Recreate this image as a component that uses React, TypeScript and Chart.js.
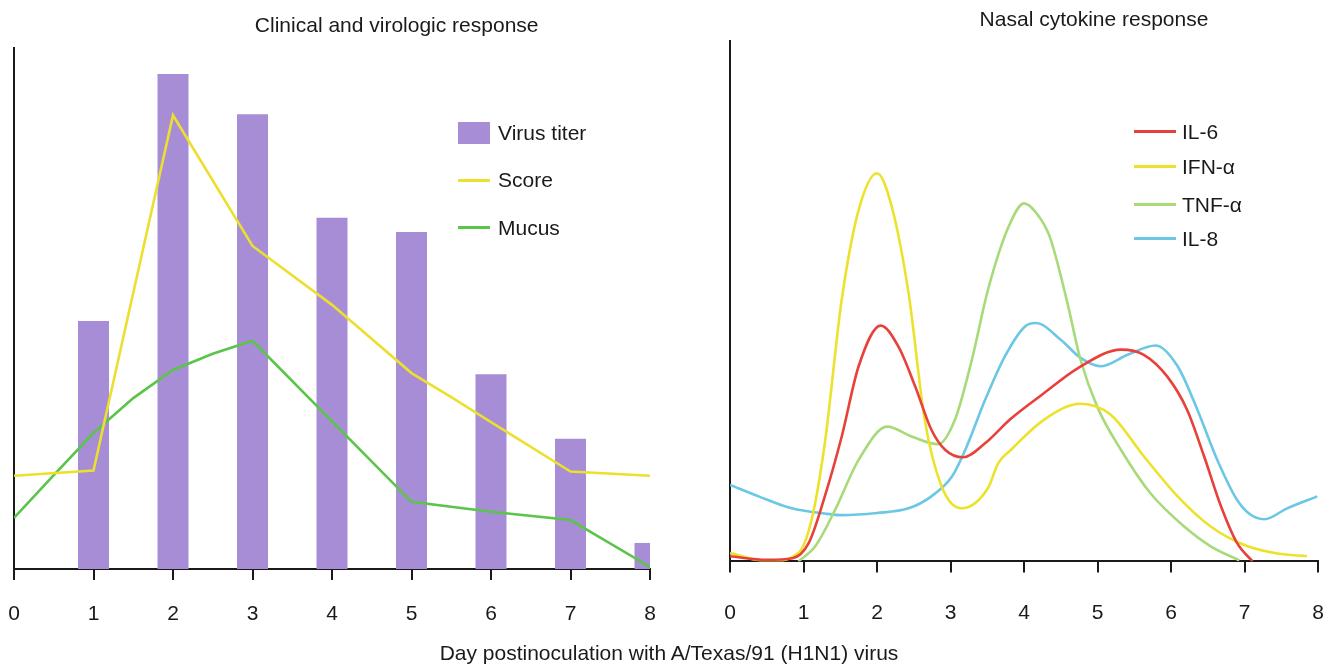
import React, { useEffect, useRef } from "react";
import { Chart, registerables } from "chart.js";

Chart.register(...registerables);

const FONT = "'Liberation Sans', Arial, Helvetica, sans-serif";
const TEXT = "#1a1a1a";
const AXIS = "#1a1a1a";

// ---- shared axis ----
const dayMin = 0;
const dayMax = 8;
const xAxisTitle = "Day postinoculation with A/Texas/91 (H1N1) virus";

// ---- left panel: clinical and virologic response ----
const leftTitle = "Clinical and virologic response";
const virusLabel = "Virus titer";
const virusDays = [1, 2, 3, 4, 5, 6, 7, 8];
const virusTiter = [47.6, 95.0, 87.3, 67.4, 64.7, 37.4, 25.0, 5.0];
const scoreLabel = "Score";
const scoreDays = [0, 1, 2, 3, 4, 5, 5.5, 6, 7, 8];
const scoreValues = [17.9, 18.9, 87.1, 62.0, 50.7, 37.6, 33.0, 28.2, 18.7, 17.9];
const mucusLabel = "Mucus";
const mucusDays = [0, 0.5, 1, 1.5, 2, 2.5, 3, 5, 6, 7, 8];
const mucusValues = [9.8, 18.0, 26.1, 32.8, 38.2, 41.3, 43.8, 12.9, 11.0, 9.4, 0.4];

// ---- right panel: nasal cytokine response ----
const rightTitle = "Nasal cytokine response";
const il6Label = "IL-6";
const il6Days = [0, 0.5, 0.85, 1.07, 1.29, 1.52, 1.75, 2.05, 2.29, 2.52, 2.74, 2.93, 3.17, 3.47, 3.82, 4.27, 4.73, 5.32, 5.63, 5.95, 6.22, 6.45, 6.68, 6.9, 7.11];
const il6Values = [1.0, 0.3, 0.6, 3.5, 12.5, 24.0, 37.5, 45.3, 41.3, 33.6, 25.3, 21.4, 20.0, 22.7, 27.4, 32.3, 37.1, 40.7, 39.7, 35.5, 29.1, 20.2, 10.6, 3.5, 0];
const ifnLabel = "IFN-\u03b1";
const ifnDays = [0, 0.52, 0.93, 1.11, 1.29, 1.52, 1.75, 2.0, 2.2, 2.43, 2.65, 2.88, 3.15, 3.51, 3.65, 3.82, 4.27, 4.77, 5.18, 5.63, 6.09, 6.54, 6.99, 7.45, 7.85];
const ifnValues = [1.6, 0, 1.6, 8.0, 22.7, 50.3, 67.5, 74.6, 68.2, 51.5, 27.2, 14.4, 10.2, 14.1, 18.9, 21.4, 27.2, 30.3, 28.2, 20.2, 12.5, 6.7, 3.2, 1.5, 1.0];
const tnfLabel = "TNF-\u03b1";
const tnfDays = [0.93, 1.16, 1.43, 1.75, 2.14, 2.47, 2.83, 3.06, 3.29, 3.51, 3.79, 4.0, 4.17, 4.35, 4.58, 4.77, 5.0, 5.32, 5.72, 6.18, 6.54, 6.93];
const tnfValues = [0, 2.9, 9.9, 19.5, 25.9, 24.0, 22.5, 27.2, 38.7, 52.2, 64.3, 68.8, 66.9, 62.4, 50.3, 38.7, 29.6, 21.4, 13.1, 6.7, 2.9, 0.2];
const il8Label = "IL-8";
const il8Days = [0, 0.39, 0.84, 1.29, 1.52, 2.0, 2.43, 2.74, 3.02, 3.2, 3.47, 3.74, 4.01, 4.16, 4.5, 4.77, 5.04, 5.41, 5.79, 6.09, 6.36, 6.63, 6.9, 7.08, 7.27, 7.58, 7.99];
const il8Values = [14.7, 12.5, 10.2, 9.2, 8.9, 9.3, 10.2, 12.5, 16.3, 21.4, 31.0, 39.4, 45.1, 45.8, 42.6, 39.1, 37.5, 39.7, 41.5, 37.5, 29.1, 19.5, 11.8, 9.0, 8.1, 10.2, 12.5];

// ---- colours ----
const VIRUS_C = "#a78dd5";
const SCORE_C = "#ecdf2e";
const MUCUS_C = "#5bc44a";
const IL6_C = "#e8403a";
const IFN_C = "#ece22c";
const TNF_C = "#a8da7a";
const IL8_C = "#6bc7e3";

const pts = (xs: number[], ys: number[]) => xs.map((x, i) => ({ x, y: ys[i] }));

function xScale(padding: number) {
  return {
    type: "linear" as const,
    min: dayMin,
    max: dayMax,
    offset: false,
    z: 1,
    afterFit: (s: any) => {
      s.paddingLeft = 0;
      s.paddingRight = 0;
    },
    ticks: {
      stepSize: 1,
      autoSkip: false,
      maxRotation: 0,
      padding,
      color: TEXT,
      font: { size: 21, family: FONT },
    },
    grid: {
      display: true,
      drawOnChartArea: false,
      drawTicks: true,
      tickLength: 11,
      color: AXIS,
      lineWidth: 2,
      offset: false,
    },
    border: { display: true, color: AXIS, width: 2 },
  };
}

const yScale = {
  type: "linear" as const,
  min: 0,
  max: 100,
  z: 1,
  ticks: { display: false },
  grid: { display: false, drawTicks: false },
  border: { display: true, color: AXIS, width: 2 },
};

const baseOptions = {
  animation: false as const,
  responsive: false,
  events: [] as any[],
  plugins: {
    legend: { display: false },
    title: { display: false },
    tooltip: { enabled: false },
  },
};

function LeftChart() {
  const ref = useRef<HTMLCanvasElement>(null);
  useEffect(() => {
    if (!ref.current) return;
    const chart = new Chart(ref.current, {
      type: "bar",
      data: {
        datasets: [
          {
            type: "line",
            label: scoreLabel,
            data: pts(scoreDays, scoreValues),
            borderColor: SCORE_C,
            borderWidth: 2.6,
            pointRadius: 0,
            tension: 0,
            order: 1,
          } as any,
          {
            type: "line",
            label: mucusLabel,
            data: pts(mucusDays, mucusValues),
            borderColor: MUCUS_C,
            borderWidth: 2.6,
            pointRadius: 0,
            tension: 0,
            order: 2,
          } as any,
          {
            type: "bar",
            label: virusLabel,
            data: pts(virusDays, virusTiter),
            backgroundColor: VIRUS_C,
            borderWidth: 0,
            barPercentage: 0.39,
            categoryPercentage: 1,
            clip: 0,
            order: 3,
          } as any,
        ],
      },
      options: {
        ...baseOptions,
        layout: { padding: { left: 14, top: 48, right: 30, bottom: 0 } },
        scales: { x: xScale(21.4) as any, y: yScale as any },
      } as any,
    });
    return () => chart.destroy();
  }, []);
  return (
    <canvas
      ref={ref}
      width={680}
      height={648}
      style={{ position: "absolute", left: 0, top: 0, width: 680, height: 648 }}
    />
  );
}

function RightChart() {
  const ref = useRef<HTMLCanvasElement>(null);
  useEffect(() => {
    if (!ref.current) return;
    const mk = (label: string, xs: number[], ys: number[], color: string, order: number) => ({
      label,
      data: pts(xs, ys),
      borderColor: color,
      backgroundColor: color,
      borderWidth: 2.6,
      pointRadius: 0,
      cubicInterpolationMode: "monotone" as const,
      order,
    });
    const chart = new Chart(ref.current, {
      type: "line",
      data: {
        datasets: [
          mk(il8Label, il8Days, il8Values, IL8_C, 4),
          mk(tnfLabel, tnfDays, tnfValues, TNF_C, 3),
          mk(ifnLabel, ifnDays, ifnValues, IFN_C, 2),
          mk(il6Label, il6Days, il6Values, IL6_C, 1),
        ],
      },
      options: {
        ...baseOptions,
        layout: { padding: { left: 50, top: 41, right: 18, bottom: 0 } },
        scales: { x: xScale(28.7) as any, y: yScale as any },
      } as any,
    });
    return () => chart.destroy();
  }, []);
  return (
    <canvas
      ref={ref}
      width={656}
      height={655}
      style={{ position: "absolute", left: 680, top: 0, width: 656, height: 655 }}
    />
  );
}

const textStyle: React.CSSProperties = {
  position: "absolute",
  fontFamily: FONT,
  fontSize: 21,
  lineHeight: "21px",
  color: TEXT,
  whiteSpace: "nowrap",
};

// baseline = top + 17.8 for 21px Liberation Sans at line-height 21px
const topFromBaseline = (b: number) => b - 17.8;

function LegendLine({ x, y, w, color }: { x: number; y: number; w: number; color: string }) {
  return (
    <div
      style={{ position: "absolute", left: x, top: y - 1.5, width: w, height: 3, background: color }}
    />
  );
}

export default function App() {
  return (
    <div
      style={{
        position: "absolute",
        left: 0,
        top: 0,
        width: 1336,
        height: 669,
        background: "#ffffff",
        overflow: "hidden",
      }}
    >
      <LeftChart />
      <RightChart />

      {/* titles */}
      <div style={{ ...textStyle, left: 396.7, top: topFromBaseline(31.7), transform: "translateX(-50%)" }}>
        {leftTitle}
      </div>
      <div style={{ ...textStyle, left: 1094, top: topFromBaseline(25.5), transform: "translateX(-50%)" }}>
        {rightTitle}
      </div>
      <div style={{ ...textStyle, left: 669, top: topFromBaseline(660), transform: "translateX(-50%)" }}>
        {xAxisTitle}
      </div>

      {/* left legend */}
      <div style={{ position: "absolute", left: 458, top: 122, width: 32, height: 22, background: VIRUS_C }} />
      <div style={{ ...textStyle, left: 498, top: topFromBaseline(140) }}>{virusLabel}</div>
      <LegendLine x={458} y={180.3} w={32} color={SCORE_C} />
      <div style={{ ...textStyle, left: 498, top: topFromBaseline(186.7) }}>{scoreLabel}</div>
      <LegendLine x={458} y={227.7} w={32} color={MUCUS_C} />
      <div style={{ ...textStyle, left: 498, top: topFromBaseline(235) }}>{mucusLabel}</div>

      {/* right legend */}
      <LegendLine x={1134} y={131.7} w={42} color={IL6_C} />
      <div style={{ ...textStyle, left: 1182, top: topFromBaseline(138.3) }}>{il6Label}</div>
      <LegendLine x={1134} y={166} w={42} color={IFN_C} />
      <div style={{ ...textStyle, left: 1182, top: topFromBaseline(173.3) }}>{ifnLabel}</div>
      <LegendLine x={1134} y={204} w={42} color={TNF_C} />
      <div style={{ ...textStyle, left: 1182, top: topFromBaseline(211.7) }}>{tnfLabel}</div>
      <LegendLine x={1134} y={238} w={42} color={IL8_C} />
      <div style={{ ...textStyle, left: 1182, top: topFromBaseline(245.7) }}>{il8Label}</div>
    </div>
  );
}
